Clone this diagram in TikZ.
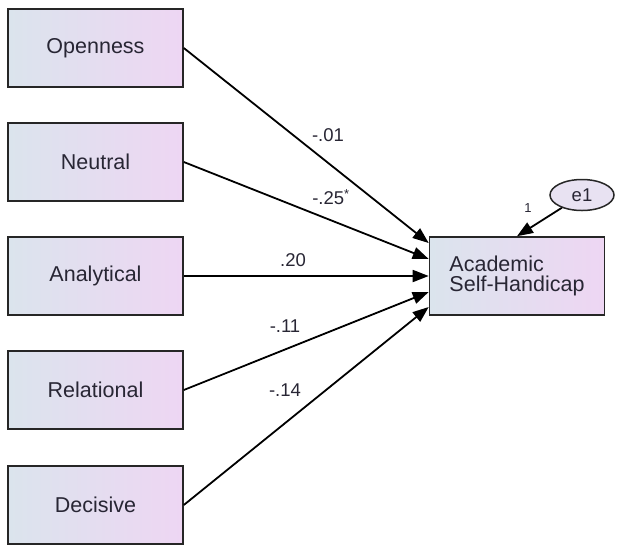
\documentclass[tikz,border=0pt]{standalone}
\usepackage{fontspec}
\setmainfont{Liberation Sans}
\usetikzlibrary{arrows.meta,shapes.geometric}
\definecolor{boxL}{RGB}{219,228,237}
\definecolor{boxR}{RGB}{238,214,243}
\definecolor{errfill}{RGB}{232,226,242}
\definecolor{txt}{RGB}{40,38,52}
\begin{document}
\begin{tikzpicture}[>={Triangle[length=16pt,width=12pt]}, line width=1.8pt, x=1pt, y=-1pt,
	obs/.style={draw=black!85, line width=1.6pt, left color=boxL, right color=boxR, minimum width=175pt, minimum height=78pt, inner sep=0pt, text=txt, font=\fontsize{21.5}{23}\selectfont},
	coef/.style={text=txt, inner sep=1pt, font=\fontsize{18.5}{20}\selectfont}]
				\useasboundingbox (0,0) rectangle (621,547);
				
				% predictors
				\node[obs] (open) at (95.5,48) {Openness};
				\node[obs] (neut) at (95.5,162) {Neutral};
				\node[obs] (anal) at (95.5,276) {Analytical};
				\node[obs] (rela) at (95.5,390) {Relational};
				\node[obs] (deci) at (95.5,505) {Decisive};
				
				% outcome and error term
				\node[obs, align=left, font=\fontsize{21.5}{20}\selectfont] (ash) at (517,276) {Academic\\Self-Handicap};
				\node[ellipse, draw=black!85, line width=1.5pt, fill=errfill, minimum width=64pt, minimum height=31pt, inner sep=0pt, text=txt, font=\fontsize{18.5}{20}\selectfont] (e1) at (582,195) {e1};
				
				% paths
				\draw[->] (open.east) -- ([yshift=33pt]ash.west);
				\draw[->] (neut.east) -- ([yshift=17pt]ash.west);
				\draw[->] (anal.east) -- (ash.west);
				\draw[->] (rela.east) -- ([yshift=-16pt]ash.west);
				\draw[->] (deci.east) -- ([yshift=-31pt]ash.west);
				\draw[->] (e1) -- (ash.north);
				
				% estimates
				\node[coef] (c1) at (328,135) {-.01};
				\node[coef] (c2) at (331,197) {-.25\textsuperscript{*}};
				\node[coef] (c3) at (293,260) {.20};
				\node[coef] (c4) at (285,326) {-.11};
				\node[coef] (c5) at (285,390) {-.14};
				\node[coef, font=\fontsize{13}{14}\selectfont] (c6) at (528,208) {1};
			\end{tikzpicture}
\end{document}
